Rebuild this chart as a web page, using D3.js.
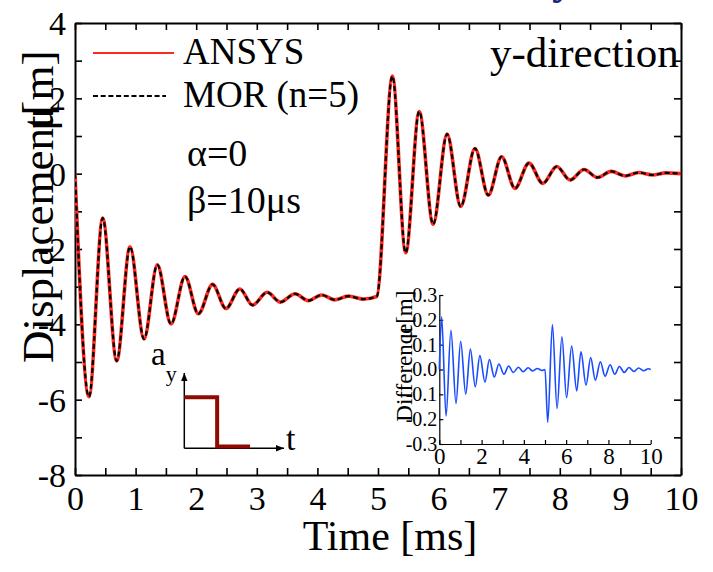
<!DOCTYPE html>
<html>
<head>
<meta charset="utf-8">
<script src="https://cdn.jsdelivr.net/npm/d3@7"></script>
<style>
  html, body { margin: 0; padding: 0; background: #fff; }
  svg { display: block; font-family: "Liberation Serif", "Times New Roman", serif; }
</style>
</head>
<body>
<svg id="chart" width="713" height="572"></svg>
<script>
// ----- Data (extrema of the ringing) ---------------------------------------
const timeMs = [0, 0.231, 0.457, 0.688, 0.908, 1.139, 1.358, 1.584, 1.815, 2.035, 2.27, 2.49,
    2.72, 2.93, 3.17, 3.39, 3.63, 3.85, 4.07, 4.29, 4.51, 4.75, 4.98,
    5.237, 5.457, 5.68, 5.91, 6.14, 6.365, 6.6, 6.82, 7.04, 7.26, 7.49, 7.72, 7.95,
    8.17, 8.4, 8.62, 8.85, 9.08, 9.3, 9.53, 9.75, 10];
const ansysUm = [0, -5.92, -1.18, -4.97, -1.94, -4.39, -2.42, -3.99, -2.73, -3.72, -2.94, -3.58,
    -3.06, -3.49, -3.15, -3.41, -3.19, -3.37, -3.22, -3.35, -3.25, -3.33, -3.26,
    2.59, -2.1, 1.65, -1.34, 1.05, -0.87, 0.67, -0.57, 0.45, -0.39, 0.28, -0.26, 0.19,
    -0.17, 0.11, -0.1, 0.06, -0.06, 0.03, -0.035, 0.02, 0];
// MOR (n=5) lies on top of ANSYS at this scale
const morUm = [0, -5.92, -1.18, -4.97, -1.94, -4.39, -2.42, -3.99, -2.73, -3.72, -2.94, -3.58,
    -3.06, -3.49, -3.15, -3.41, -3.19, -3.37, -3.22, -3.35, -3.25, -3.33, -3.26,
    2.59, -2.1, 1.65, -1.34, 1.05, -0.87, 0.67, -0.57, 0.45, -0.39, 0.28, -0.26, 0.19,
    -0.17, 0.11, -0.1, 0.06, -0.06, 0.03, -0.035, 0.02, 0];

// inset: difference ANSYS - MOR
const diffTimeMs = [0, 0.11, 0.32, 0.55, 0.79, 1.01, 1.25, 1.47, 1.7, 1.92, 2.16, 2.37, 2.6,
    2.82, 3.06, 3.28, 3.5, 3.74, 3.97, 4.2, 4.42, 4.64, 4.86, 5.0,
    5.13, 5.35, 5.57, 5.8, 6.02, 6.26, 6.5, 6.7, 6.94, 7.16, 7.38, 7.62, 7.84,
    8.08, 8.3, 8.52, 8.75, 8.97, 9.21, 9.43, 9.67, 9.89, 10];
const diffUm = [0, 0.212, -0.187, 0.158, -0.137, 0.114, -0.099, 0.082, -0.07, 0.056, -0.051, 0.04, -0.03,
    0.022, -0.019, 0.014, -0.012, 0.009, -0.009, 0.007, -0.006, 0.004, -0.004, 0.0,
    -0.213, 0.181, -0.157, 0.132, -0.114, 0.094, -0.086, 0.071, -0.063, 0.048, -0.043, 0.031, -0.027,
    0.019, -0.019, 0.012, -0.012, 0.008, -0.008, 0.006, -0.005, 0.003, 0];

// tick labels
const xTicks = [0, 1, 2, 3, 4, 5, 6, 7, 8, 9, 10];
const yTicks = [-8, -6, -4, -2, 0, 2, 4];
const insetXTicks = [0, 2, 4, 6, 8, 10];
const insetYTicks = [-0.3, -0.2, -0.1, 0, 0.1, 0.2, 0.3];

// load schematic a_y(t): step down
const stepT = [0, 1, 1, 2];
const stepA = [1, 1, 0, 0];

const series = [
    { name: "ANSYS", values: ansysUm },
    { name: "MOR (n=5)", values: morUm }
];

// ========== RENDER ==========================================================
const svg = d3.select("#chart");
const FONT = '"Liberation Serif", "Times New Roman", serif';

// 1) scales
const x = d3.scaleLinear().domain([0, 10]).range([75, 681]);
const y = d3.scaleLinear().domain([-8, 4]).range([475, 23]);

const xi = d3.scaleLinear().domain([0, 10]).range([439.3, 650.7]);
const yi = d3.scaleLinear().domain([-0.3, 0.3]).range([444, 295]);

// cut-off title fragment at the very top
svg.append("text")
    .attr("x", 552).attr("y", -6)
    .attr("font-size", 44).attr("font-weight", "bold")
    .attr("fill", "#16247a")
    .text("y");

// 2) main axes (ticks point inward on all four sides)
function styleAxis(g, fontSize) {
    g.selectAll("path.domain").attr("stroke", "#000").attr("stroke-width", 2);
    g.selectAll(".tick line").attr("stroke", "#000").attr("stroke-width", 1.6);
    g.selectAll(".tick text").attr("fill", "#000").attr("font-family", FONT).attr("font-size", fontSize);
}

const halfSteps = d3.range(0, 21).map((i) => i * 0.5);
const unitSteps = d3.range(-8, 5);

svg.append("g")
    .attr("transform", `translate(0,${y(-8)})`)
    .call(d3.axisBottom(x).tickValues(halfSteps).tickSizeInner(-7).tickSizeOuter(0).tickPadding(11)
        .tickFormat((d) => (xTicks.includes(d) ? String(d) : "")))
    .call((g) => styleAxis(g, 34));

svg.append("g")
    .attr("transform", `translate(0,${y(4)})`)
    .call(d3.axisTop(x).tickValues(halfSteps).tickSizeInner(-7).tickSizeOuter(0).tickFormat(""))
    .call((g) => styleAxis(g, 34));

svg.append("g")
    .attr("transform", `translate(${x(0)},0)`)
    .call(d3.axisLeft(y).tickValues(unitSteps).tickSizeInner(-7).tickSizeOuter(0).tickPadding(9)
        .tickFormat((d) => (yTicks.includes(d) ? String(d) : "")))
    .call((g) => styleAxis(g, 34))
    .call((g) => g.selectAll(".tick text").attr("dy", "0.34em"));

svg.append("g")
    .attr("transform", `translate(${x(10)},0)`)
    .call(d3.axisRight(y).tickValues(unitSteps).tickSizeInner(-7).tickSizeOuter(0).tickFormat(""))
    .call((g) => styleAxis(g, 34));

// 3) axis titles
svg.append("text")
    .attr("x", 390).attr("y", 550)
    .attr("text-anchor", "middle")
    .attr("font-size", 42)
    .text("Time [ms]");

const yTitle = svg.append("text")
    .attr("transform", "translate(53,363) rotate(-90)")
    .attr("font-size", 45);
yTitle.append("tspan").text("Displacement");
yTitle.append("tspan").text("[m]");
svg.append("text")
    .attr("transform", "translate(53,131) rotate(-90)")
    .attr("font-size", 45)
    .text("μ");

// 4) curves
const clipId = "plot-clip";
svg.append("clipPath").attr("id", clipId)
    .append("rect").attr("x", x(0)).attr("y", y(4)).attr("width", x(10) - x(0)).attr("height", y(-8) - y(4));

const line = d3.line()
    .x((d) => x(d.t))
    .y((d) => y(d.v))
    .curve(d3.curveMonotoneX);

const curveLayer = svg.append("g").attr("clip-path", `url(#${clipId})`).attr("fill", "none");
curveLayer.selectAll("path")
    .data(series)
    .join("path")
    .attr("d", (s) => line(s.values.map((v, i) => ({ t: timeMs[i], v }))))
    .attr("stroke", (s, i) => (i === 0 ? "#ff2a1f" : "#000"))
    .attr("stroke-width", (s, i) => (i === 0 ? 3.6 : 2.2))
    .attr("stroke-dasharray", (s, i) => (i === 0 ? null : "5,3"));

// 5) legend + annotations
const legend = svg.append("g").attr("font-size", 37);
series.forEach((s, i) => {
    const ly = [53, 96][i];
    legend.append("line")
        .attr("x1", 93).attr("x2", i === 0 ? 174 : 166)
        .attr("y1", ly).attr("y2", ly)
        .attr("stroke", i === 0 ? "#ff2a1f" : "#000")
        .attr("stroke-width", 2)
        .attr("stroke-dasharray", i === 0 ? null : "5,2.7");
    legend.append("text").attr("x", 183).attr("y", ly + 11).text(s.name);
});

svg.append("text").attr("x", 187).attr("y", 166).attr("font-size", 38).text("α=0");
svg.append("text").attr("x", 187).attr("y", 213).attr("font-size", 38).text("β=10μs");
svg.append("text").attr("x", 490).attr("y", 67).attr("font-size", 43).text("y-direction");

// 6) load schematic
const sx = d3.scaleLinear().domain([0, 2]).range([184.3, 250]);
const sy = d3.scaleLinear().domain([0, 1]).range([446.5, 397.3]);

const defs = svg.append("defs");
defs.append("marker")
    .attr("id", "arrow")
    .attr("viewBox", "0 0 10 10")
    .attr("refX", 10).attr("refY", 5)
    .attr("markerWidth", 10).attr("markerHeight", 8)
    .attr("markerUnits", "userSpaceOnUse")
    .attr("orient", "auto")
    .append("path").attr("d", "M0,1 L10,5 L0,9 Z").attr("fill", "#000");

const schem = svg.append("g");
schem.append("line")
    .attr("x1", sx(0)).attr("y1", 448.3).attr("x2", sx(0)).attr("y2", 373)
    .attr("stroke", "#000").attr("stroke-width", 1.5).attr("marker-end", "url(#arrow)");
schem.append("line")
    .attr("x1", sx(0)).attr("y1", 448.3).attr("x2", 284).attr("y2", 448.3)
    .attr("stroke", "#000").attr("stroke-width", 1.5).attr("marker-end", "url(#arrow)");
schem.append("path")
    .attr("d", d3.line().x((d, i) => sx(stepT[i])).y((d) => sy(d))(stepA))
    .attr("fill", "none")
    .attr("stroke", "#8f0a00")
    .attr("stroke-width", 4);
const ay = schem.append("text").attr("x", 151).attr("y", 365).attr("font-size", 33);
ay.append("tspan").text("a");
ay.append("tspan").attr("font-size", 22).attr("dy", 16).text("y");
schem.append("text").attr("x", 286).attr("y", 450).attr("font-size", 34).text("t");

// 7) inset: difference
const inset = svg.append("g");
inset.append("g")
    .attr("transform", `translate(0,${yi(-0.3)})`)
    .call(d3.axisBottom(xi).tickValues(d3.range(0, 11)).tickSizeInner(-4).tickSizeOuter(0).tickPadding(4)
        .tickFormat((d) => (insetXTicks.includes(d) ? String(d) : "")))
    .call((g) => styleAxis(g, 23))
    .call((g) => g.selectAll("path.domain, .tick line").attr("stroke-width", 1.2));

inset.append("g")
    .attr("transform", `translate(${xi(0)},0)`)
    .call(d3.axisLeft(yi).tickValues(insetYTicks).tickSizeInner(-4).tickSizeOuter(0).tickPadding(2)
        .tickFormat((d) => d.toFixed(1)))
    .call((g) => styleAxis(g, 20))
    .call((g) => g.selectAll("path.domain, .tick line").attr("stroke-width", 1.2));

const diffLine = d3.line()
    .x((d) => xi(d.t))
    .y((d) => yi(d.v))
    .curve(d3.curveMonotoneX);

inset.append("path")
    .attr("d", diffLine(diffUm.map((v, i) => ({ t: diffTimeMs[i], v }))))
    .attr("fill", "none")
    .attr("stroke", "#1a4cff")
    .attr("stroke-width", 1.6);

const dTitle = inset.append("text")
    .attr("transform", "translate(412,421.7) rotate(-90)")
    .attr("font-size", 23);
dTitle.append("tspan").text("Difference");
dTitle.append("tspan").text("[m]");
inset.append("text")
    .attr("transform", "translate(412,339) rotate(-90)")
    .attr("font-size", 23)
    .text("μ");
</script>
</body>
</html>
